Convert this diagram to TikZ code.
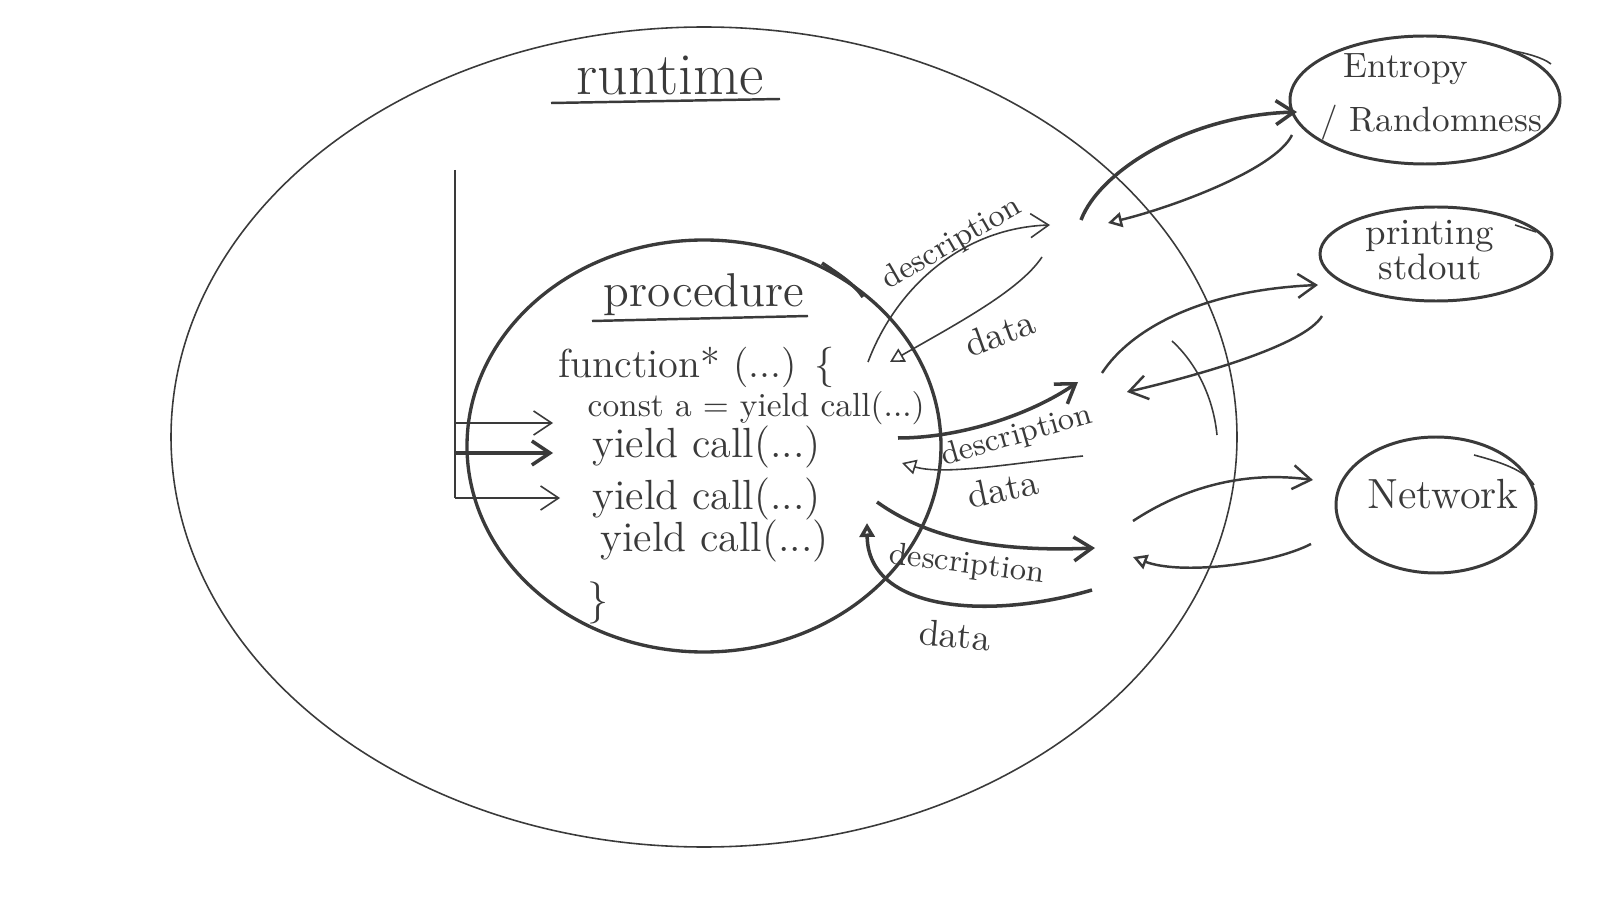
\documentclass[tikz,border=0pt]{standalone}
\usetikzlibrary{shapes.geometric,arrows.meta}
\definecolor{ink}{HTML}{3A3A3A}
\tikzset{
  thinline/.style={draw=ink, line width=0.45pt},
  midline/.style={draw=ink, line width=0.7pt},
  thickline/.style={draw=ink, line width=1pt},
  barb/.style={-{Straight Barb[length=1.8mm,width=2.4mm]}},
  opentip/.style={-{Triangle[open,length=1.4mm,width=1.5mm]}},
  bubble/.style={ellipse, draw=ink, line width=0.85pt, inner sep=0pt},
  bubbletext/.style={text=ink, inner sep=0pt, font=\fontsize{10}{14}\selectfont},
  code/.style={anchor=west, text=ink, inner sep=0pt, font=\fontsize{12}{14}\selectfont},
  flow/.style={text=ink, inner sep=0pt, font=\fontsize{9}{11}\selectfont},
  reply/.style={text=ink, inner sep=0pt, font=\fontsize{10.5}{12}\selectfont},
}
\begin{document}
\begin{tikzpicture}[x=0.1mm, y=-0.1mm]
  \useasboundingbox (0,0) rectangle (1600,900);

  \node[ellipse, thinline, minimum width=106.6mm, minimum height=82mm] (runtime) at (704,437) {};
  \node[text=ink, font=\fontsize{17}{20}\selectfont] (rtitle) at (670,75) {runtime};
  \draw[midline] (551,103) -- (780,99);

  \node[ellipse, draw=ink, line width=0.95pt, minimum width=47.4mm, minimum height=41.2mm] (proc) at (704,446) {};
  \node[text=ink, font=\fontsize{13.5}{16}\selectfont] (ptitle) at (704,295) {procedure};
  \draw[midline] (592,321) -- (808,316);
  \draw[thickline] (822,263) .. controls (840,275) and (855,285) .. (863,297);

  \node[code, font=\fontsize{11.5}{14}\selectfont] (fn) at (558,367) {function* (...) \{};
  \node[code, font=\fontsize{9.5}{12}\selectfont] (c1) at (587,408) {const a = yield call(...)};
  \node[code] (c2) at (592,447) {yield call(...)};
  \node[code] (c3) at (592,499) {yield call(...)};
  \node[code] (c4) at (600,541) {yield call(...)};
  \node[code] (fnend) at (587,603) {\}};

  \coordinate (bartop) at (455,170);
  \coordinate (barbot) at (455,498);
  \coordinate (in1) at (553,423);
  \coordinate (in2) at (553,453);
  \coordinate (in3) at (560,498);
  \draw[thinline] (bartop) -- (barbot);
  \draw[thinline,barb] (455,423) -- (in1);
  \draw[thickline,barb] (455,453) -- (in2);
  \draw[thinline,barb] (barbot) -- (in3);

  \coordinate (d1a) at (868,362);  \coordinate (d1b) at (1050,225);
  \coordinate (r1a) at (1042,257); \coordinate (r1b) at (890,362);
  \coordinate (d2a) at (898,438);  \coordinate (d2b) at (1078,382);
  \coordinate (r2a) at (1083,456); \coordinate (r2b) at (902,463);
  \coordinate (d3a) at (877,502);  \coordinate (d3b) at (1095,548);
  \coordinate (r3a) at (1092,590); \coordinate (r3b) at (867,523);
  \draw[thinline,barb] (d1a) .. controls (895,290) and (960,228) .. (d1b);
  \draw[thinline,opentip] (r1a) .. controls (1020,290) and (960,322) .. (r1b);
  \draw[thickline,barb] (d2a) .. controls (960,438) and (1030,415) .. (d2b);
  \draw[thinline,opentip] (r2a) .. controls (1020,462) and (945,476) .. (r2b);
  \draw[thickline,barb] (d3a) .. controls (930,540) and (1000,552) .. (d3b);
  \draw[thickline,opentip] (r3a) .. controls (990,620) and (868,612) .. (r3b);
  \node[flow, rotate=30] (desc1) at (952,244) {description};
  \node[reply, rotate=20] (data1) at (1000,333) {data};
  \node[flow, rotate=16] (desc2) at (1017,436) {description};
  \node[reply, rotate=12] (data2) at (1003,489) {data};
  \node[flow, rotate=-7] (desc3) at (967,565) {description};
  \node[reply, rotate=-5] (data3) at (955,635) {data};

  \node[bubble, minimum width=27mm, minimum height=12.8mm] (entropy) at (1425,100) {};
  \node[bubbletext, anchor=west] (entropytext) at (1343,69) {Entropy};
  \node[bubbletext, anchor=west] (randtext) at (1320,123) {/ Randomness};
  \node[bubble, minimum width=23.2mm, minimum height=9.4mm] (stdout) at (1436,254) {};
  \node[bubbletext, align=center, font=\fontsize{10.5}{10}\selectfont] (stdouttext) at (1430,250) {printing\\stdout};
  \node[bubble, minimum width=20mm, minimum height=13.6mm] (network) at (1436,505) {};
  \node[bubbletext, font=\fontsize{12}{14}\selectfont] (networktext) at (1443,494) {Network};
  \draw[thinline] (1509,50) .. controls (1525,53) and (1542,57) .. (1551,64);
  \draw[thinline] (1515,225) -- (1536,232);
  \draw[thinline] (1474,455) .. controls (1500,462) and (1525,470) .. (1534,485);
  \draw[thinline] (1172,341) .. controls (1195,362) and (1213,395) .. (1217,435);

  \coordinate (e1a) at (1081,220); \coordinate (e1b) at (1297,112);
  \coordinate (e2a) at (1292,135); \coordinate (e2b) at (1108,223);
  \coordinate (s1a) at (1102,373); \coordinate (s1b) at (1318,285);
  \coordinate (s2a) at (1322,316); \coordinate (s2b) at (1127,392);
  \coordinate (n1a) at (1133,521); \coordinate (n1b) at (1313,480);
  \coordinate (n2a) at (1311,544); \coordinate (n2b) at (1133,557);
  \draw[thickline,barb] (e1a) .. controls (1100,170) and (1190,115) .. (e1b);
  \draw[midline,opentip] (e2a) .. controls (1275,170) and (1170,208) .. (e2b);
  \draw[midline,barb] (s1a) .. controls (1130,330) and (1200,290) .. (s1b);
  \draw[midline,barb] (s2a) .. controls (1305,345) and (1200,375) .. (s2b);
  \draw[midline,barb] (n1a) .. controls (1180,490) and (1240,470) .. (n1b);
  \draw[midline,opentip] (n2a) .. controls (1270,565) and (1180,575) .. (n2b);
\end{tikzpicture}
\end{document}
